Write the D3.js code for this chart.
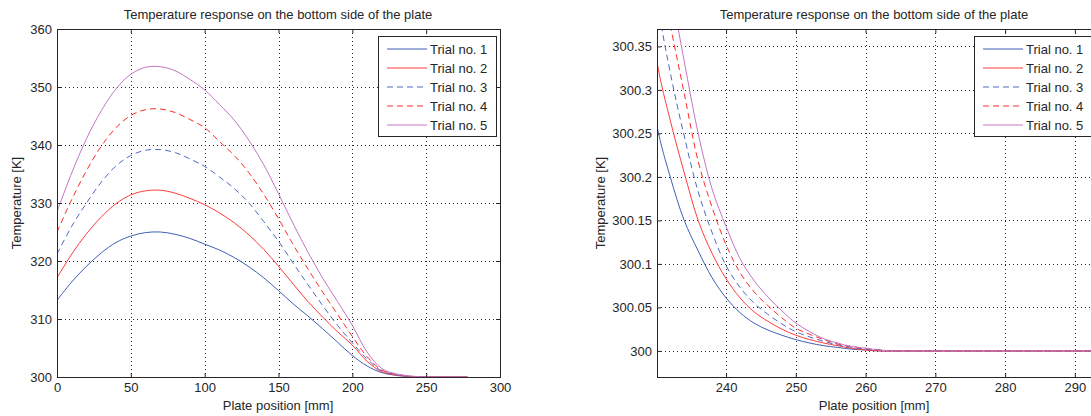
<!DOCTYPE html>
<html>
<head>
<meta charset="utf-8">
<script src="https://cdn.jsdelivr.net/npm/d3@7"></script>
<style>
  body { margin: 0; background: #fff; }
  svg text { font-family: "Liberation Sans", Arial, sans-serif; font-size: 13px; fill: #262626; }
</style>
</head>
<body>
<svg id="chart" width="1091" height="416"></svg>
<script>
// plate positions [mm] for the main profile
const profilePos = [0, 10, 20, 30, 40, 50, 60, 70, 80, 90, 100, 110, 120, 130, 140, 150, 160, 170, 180, 190, 200, 210, 220];
const trial1Profile = [313.2, 316.4, 319.1, 321.4, 323.2, 324.3, 324.9, 325.0, 324.6, 323.9, 322.9, 321.9, 320.6, 319.0, 317.1, 314.9, 312.6, 310.5, 308.3, 306.0, 303.7, 301.9, 300.75];
const trial2Profile = [317.1, 321.2, 324.7, 327.6, 329.9, 331.4, 332.1, 332.2, 331.7, 330.8, 329.7, 328.3, 326.6, 324.5, 322.0, 319.1, 316.0, 313.0, 310.3, 307.8, 305.5, 302.7, 300.9];
const trial3Profile = [321.2, 326.0, 330.0, 333.6, 336.4, 338.2, 339.1, 339.2, 338.7, 337.6, 336.3, 334.5, 332.5, 330.0, 326.8, 323.4, 319.6, 315.9, 312.3, 308.9, 305.9, 303.1, 301.05];
const trial4Profile = [325.0, 330.6, 335.6, 339.8, 343.0, 345.1, 346.1, 346.2, 345.6, 344.4, 343.0, 340.6, 338.2, 335.2, 331.5, 327.3, 322.8, 318.6, 314.6, 310.8, 307.0, 303.5, 301.2];
const trial5Profile = [328.5, 335.2, 341.1, 345.9, 349.7, 352.2, 353.4, 353.5, 352.8, 351.3, 349.5, 347.0, 344.3, 340.8, 336.6, 331.6, 326.4, 321.5, 317.0, 313.0, 308.9, 304.3, 301.45];

// finer readings of the tail (zoomed panel)
const tailPos = [230, 232, 234, 236, 238, 240, 242, 244, 246, 248, 250, 252, 254, 256, 258, 260, 262, 264, 270, 278, 290, 300];
const trial1Tail = [300.262, 300.200, 300.150, 300.115, 300.084, 300.061, 300.044, 300.032, 300.024, 300.018, 300.013, 300.009, 300.006, 300.004, 300.002, 300.001, 300, 300, 300, 300, 300, 300];
const trial2Tail = [300.336, 300.265, 300.205, 300.150, 300.112, 300.083, 300.061, 300.045, 300.034, 300.025, 300.018, 300.013, 300.009, 300.006, 300.003, 300.001, 300, 300, 300, 300, 300, 300];
const trial3Tail = [300.410, 300.320, 300.247, 300.183, 300.136, 300.098, 300.073, 300.055, 300.042, 300.031, 300.022, 300.016, 300.011, 300.007, 300.004, 300.002, 300.001, 300, 300, 300, 300, 300];
const trial4Tail = [300.460, 300.375, 300.296, 300.218, 300.165, 300.122, 300.090, 300.068, 300.052, 300.038, 300.026, 300.019, 300.013, 300.008, 300.005, 300.003, 300.001, 300, 300, 300, 300, 300];
const trial5Tail = [300.510, 300.420, 300.333, 300.250, 300.186, 300.143, 300.106, 300.081, 300.062, 300.046, 300.032, 300.022, 300.014, 300.009, 300.005, 300.003, 300.001, 300, 300, 300, 300, 300];

const trialNames = ["Trial no. 1", "Trial no. 2", "Trial no. 3", "Trial no. 4", "Trial no. 5"];
const trialColors = ["#3f5fb5", "#ff3c3c", "#4a6cc4", "#ff2a2a", "#c475c4"];
const trialDashes = [null, null, "6,4", "6,4", null];

const leftXTicks = [0, 50, 100, 150, 200, 250, 300];
const leftYTicks = [300, 310, 320, 330, 340, 350, 360];
const rightXTicks = [240, 250, 260, 270, 280, 290];
const rightYTicks = [300, 300.05, 300.1, 300.15, 300.2, 300.25, 300.3, 300.35];

const titleText = "Temperature response on the bottom side of the plate";
const xTitle = "Plate position [mm]";
const yTitle = "Temperature [K]";

const profiles = [trial1Profile, trial2Profile, trial3Profile, trial4Profile, trial5Profile];
const tails = [trial1Tail, trial2Tail, trial3Tail, trial4Tail, trial5Tail];

const series = trialNames.map((name, i) => {
  let pts = profilePos.map((p, j) => ({ x: p, y: profiles[i][j] }))
    .concat(tailPos.map((p, j) => ({ x: p, y: tails[i][j] })));
  return { name: name, color: trialColors[i], dash: trialDashes[i], points: pts };
});

const svg = d3.select("#chart");
const frameColor = "#262626";

function drawPanel(cfg) {
  let x = d3.scaleLinear().domain(cfg.xDomain).range([cfg.left, cfg.left + cfg.width]);
  let y = d3.scaleLinear().domain(cfg.yDomain).range([cfg.top + cfg.height, cfg.top]);
  let bottom = cfg.top + cfg.height, right = cfg.left + cfg.width;
  let g = svg.append("g");

  g.append("clipPath").attr("id", cfg.id + "-clip")
    .append("rect")
    .attr("x", cfg.left).attr("y", cfg.top)
    .attr("width", cfg.width).attr("height", cfg.height);

  // dotted grid
  g.append("g").selectAll("line").data(cfg.xTicks).enter().append("line")
    .attr("x1", d => Math.round(x(d)) + 0.5).attr("x2", d => Math.round(x(d)) + 0.5)
    .attr("y1", cfg.top).attr("y2", bottom)
    .attr("stroke", frameColor).attr("stroke-dasharray", "1,3");
  g.append("g").selectAll("line").data(cfg.yTicks).enter().append("line")
    .attr("y1", d => Math.round(y(d)) + 0.5).attr("y2", d => Math.round(y(d)) + 0.5)
    .attr("x1", cfg.left).attr("x2", right)
    .attr("stroke", frameColor).attr("stroke-dasharray", "1,3");

  let line = d3.line()
    .x(d => x(d.x)).y(d => y(d.y))
    .curve(d3.curveCatmullRom.alpha(0.5));

  g.append("g").attr("clip-path", "url(#" + cfg.id + "-clip)")
    .selectAll("path").data(series).enter().append("path")
    .attr("d", s => line(s.points.filter(p => p.x <= cfg.xEnd)))
    .attr("fill", "none")
    .attr("stroke", s => s.color)
    .attr("stroke-width", 1)
    .attr("stroke-dasharray", s => s.dash);

  // axes, ticks pointing inwards like the original
  let styleAxis = sel => {
    sel.select(".domain").remove();
    sel.selectAll(".tick line").attr("stroke", frameColor);
    sel.selectAll("text").attr("font-family", null).attr("font-size", null).attr("fill", null);
    sel.attr("font-family", null).attr("font-size", null);
  };
  g.append("g").attr("transform", "translate(0," + bottom + ")")
    .call(d3.axisBottom(x).tickValues(cfg.xTicks).tickSizeInner(-4).tickSizeOuter(0).tickPadding(6).tickFormat(d3.format("d")))
    .call(styleAxis);
  g.append("g").attr("transform", "translate(0," + cfg.top + ")")
    .call(d3.axisTop(x).tickValues(cfg.xTicks).tickSizeInner(-4).tickSizeOuter(0).tickFormat(""))
    .call(styleAxis);
  g.append("g").attr("transform", "translate(" + cfg.left + ",0)")
    .call(d3.axisLeft(y).tickValues(cfg.yTicks).tickSizeInner(-4).tickSizeOuter(0).tickPadding(5).tickFormat(d => String(+d.toFixed(2))))
    .call(styleAxis);
  g.append("g").attr("transform", "translate(" + right + ",0)")
    .call(d3.axisRight(y).tickValues(cfg.yTicks).tickSizeInner(-4).tickSizeOuter(0).tickFormat(""))
    .call(styleAxis);

  g.append("rect")
    .attr("x", cfg.left + 0.5).attr("y", cfg.top + 0.5)
    .attr("width", cfg.width).attr("height", cfg.height)
    .attr("fill", "none").attr("stroke", frameColor);

  g.append("text").attr("x", cfg.titleX).attr("y", 19)
    .attr("text-anchor", "middle").text(titleText);
  g.append("text").attr("x", cfg.titleX).attr("y", 410)
    .attr("text-anchor", "middle").text(xTitle);
  g.append("text")
    .attr("transform", "translate(" + cfg.yTitleX + "," + (cfg.top + cfg.height / 2) + ") rotate(-90)")
    .attr("text-anchor", "middle").text(yTitle);

  // legend
  let lg = g.append("g").attr("transform", "translate(" + cfg.legendX + "," + (cfg.top + 7) + ")");
  lg.append("rect").attr("x", 0.5).attr("y", 0.5)
    .attr("width", 118).attr("height", 100)
    .attr("fill", "#fff").attr("stroke", frameColor);
  let rows = lg.selectAll(".row").data(series).enter().append("g")
    .attr("transform", (d, i) => "translate(0," + (12.5 + i * 19) + ")");
  rows.append("line")
    .attr("x1", 9).attr("x2", 49).attr("y1", 0.5).attr("y2", 0.5)
    .attr("stroke", d => d.color).attr("stroke-dasharray", d => d.dash);
  rows.append("text").attr("x", 52).attr("y", 5).text(d => d.name);
}

drawPanel({
  id: "left", left: 57, top: 29, width: 443, height: 348,
  xDomain: [0, 300], yDomain: [300, 360],
  xTicks: leftXTicks, yTicks: leftYTicks, xEnd: 278,
  titleX: 278, yTitleX: 21, legendX: 378
});

drawPanel({
  id: "right", left: 657, top: 29, width: 443, height: 348,
  xDomain: [230.1, 293.6], yDomain: [299.97, 300.37],
  xTicks: rightXTicks, yTicks: rightYTicks, xEnd: 300,
  titleX: 874, yTitleX: 605, legendX: 974
});
</script>
</body>
</html>
